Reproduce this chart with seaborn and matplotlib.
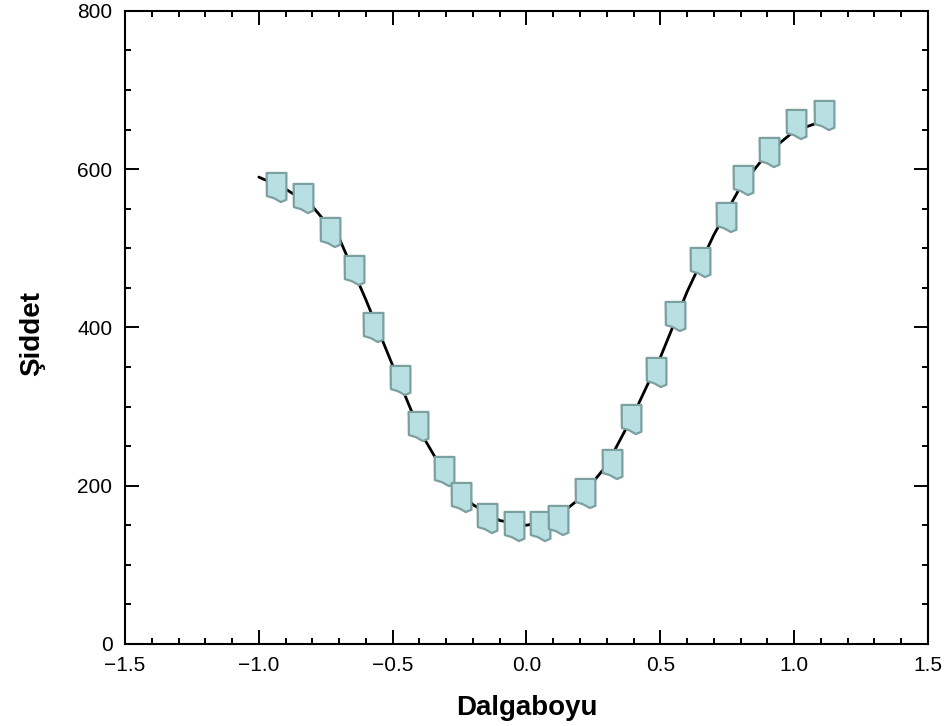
import numpy as np
import pandas as pd
import matplotlib
matplotlib.use("Agg")
import matplotlib.pyplot as plt
from matplotlib.path import Path
from matplotlib.ticker import MultipleLocator
import seaborn as sns

# measured points (marker positions)
dalga = [-0.935, -0.834, -0.733, -0.643, -0.572, -0.471, -0.404, -0.307, -0.243, -0.146,
         -0.045, 0.052, 0.116, 0.217, 0.318, 0.389, 0.483, 0.554, 0.647, 0.745,
         0.808, 0.905, 1.006, 1.111]
siddet = [577, 564, 520, 473, 401, 334, 275, 218, 186, 159,
          149, 149, 157, 191, 228, 284, 344, 414, 483, 539,
          586, 622, 657, 669]

# fitted curve
fit_x = [-1.0, -0.9, -0.8, -0.7, -0.6, -0.5, -0.4, -0.3, -0.2, -0.1, 0.0,
         0.1, 0.2, 0.3, 0.4, 0.5, 0.6, 0.7, 0.8, 0.9, 1.0, 1.1]
fit_y = [590, 575, 553, 513, 435, 352, 270, 212, 176, 156, 150,
         157, 184, 226, 290, 362, 445, 517, 578, 620, 648, 660]

pts = pd.DataFrame({"Dalgaboyu": dalga, "Siddet": siddet})
fit = pd.DataFrame({"Dalgaboyu": fit_x, "Siddet": fit_y})

sns.set_style("ticks")
plt.rcParams['font.family'] = ['Liberation Sans', 'DejaVu Sans']
plt.rcParams['text.color'] = 'black'
plt.rcParams['axes.labelcolor'] = 'black'

# odd little "tag" marker
verts = [(-0.68, 1), (0.68, 1), (0.68, -0.84), (0.30, -1.0), (-0.18, -0.73),
         (-0.66, -0.59), (-0.68, 1)]
tag = Path(verts, [Path.MOVETO] + [Path.LINETO] * 5 + [Path.CLOSEPOLY])

fig = plt.figure(figsize=(9.44, 7.26), dpi=100)
ax = fig.add_axes([0.1324, 0.113, 0.8506, 0.872])

sns.lineplot(data=fit, x="Dalgaboyu", y="Siddet", ax=ax, color="black",
             linewidth=2.0, zorder=2)
sns.scatterplot(data=pts, x="Dalgaboyu", y="Siddet", ax=ax, marker=tag, s=440,
                color="#b8dfe2", edgecolor="#7c9fa0", linewidth=1.6, zorder=3)

ax.set_xlim(-1.5, 1.5)
ax.set_ylim(0, 800)
ax.xaxis.set_major_locator(MultipleLocator(0.5))
ax.xaxis.set_minor_locator(MultipleLocator(0.1))
ax.yaxis.set_major_locator(MultipleLocator(200))
ax.yaxis.set_minor_locator(MultipleLocator(50))
ax.tick_params(which="both", direction="in", top=True, right=True, width=1.4,
               labelsize=15, colors="black")
ax.tick_params(which="major", length=10, pad=9)
ax.tick_params(which="minor", length=4.5)
for sp in ax.spines.values():
    sp.set_linewidth(1.5)
    sp.set_color("black")

ax.set_xlabel("Dalgaboyu", fontsize=20, fontweight="bold", labelpad=14)
ax.set_ylabel("Şiddet", fontsize=20, fontweight="bold")
ax.yaxis.set_label_coords(-0.1, 0.49)

fig.savefig("out.png", dpi=100)
